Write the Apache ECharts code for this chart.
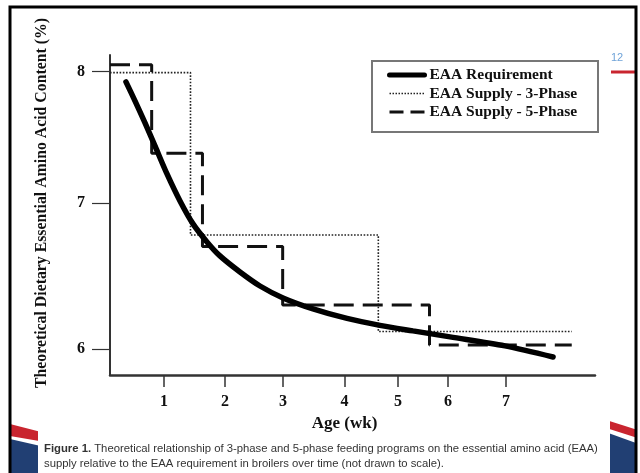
<!DOCTYPE html>
<html><head><meta charset="utf-8">
<script src="https://cdn.jsdelivr.net/npm/echarts@6/dist/echarts.min.js"></script>
<style>html,body{margin:0;padding:0;background:#fff}#c{width:640px;height:473px}</style>
</head><body><div id="c"></div>
<script>
// ---- data (schematic position units; figure is "not drawn to scale") ----
const seriesNames = ['EAA Requirement', 'EAA Supply - 3-Phase', 'EAA Supply - 5-Phase'];
const requirement = [
  [0.333, 7.926], [0.491, 7.789], [0.667, 7.630], [0.842, 7.464], [1.053, 7.262],
  [1.281, 7.067], [1.509, 6.902], [1.754, 6.772], [1.982, 6.671], [2.333, 6.555],
  [2.684, 6.454], [3.088, 6.368], [3.614, 6.289], [4.211, 6.220], [4.789, 6.170],
  [5.368, 6.130], [6.018, 6.087], [6.982, 6.022], [7.825, 5.942]
];
const supply3Phase = [[0.053, 7.993], [1.465, 6.822], [4.760, 6.126], [8.153, 6.126]];
const supply5Phase = [[0.053, 8.050], [0.784, 7.411], [1.675, 6.738], [3.082, 6.317], [5.658, 6.029], [8.153, 6.029]];
const xTickPos = [1, 2.07, 3.088, 4.167, 5.105, 5.982, 7];
const xTickLabels = ['1', '2', '3', '4', '5', '6', '7'];
const yTickPos = [6, 7.051, 8];
const yTickLabels = ['6', '7', '8'];
const xTitle = 'Age (wk)';
const yTitle = 'Theoretical Dietary Essential Amino Acid Content (%)';
const captionLine1 = ['Figure 1.', ' Theoretical relationship of 3-phase and 5-phase feeding programs on the essential amino acid (EAA)'];
const captionLine2 = 'supply relative to the EAA requirement in broilers over time (not drawn to scale).';
const pageNumber = '12';

function lookup(pos, labels) {
  return function (v) {
    for (let i = 0; i < pos.length; i++) if (Math.abs(pos[i] - v) < 1e-6) return labels[i];
    return '';
  };
}

const serif = '"Liberation Serif", "Times New Roman", serif';
const sans = '"Liberation Sans", Arial, sans-serif';
const styleReq = { color: '#000', width: 5.5, type: 'solid' };
const style3 = { color: '#222', width: 1.6, type: [1.6, 1.6] };
const style5 = { color: '#111', width: 3, type: [20, 9] };

const chart = echarts.init(document.getElementById('c'));
chart.setOption({
  backgroundColor: '#fff',
  animation: false,
  grid: { left: 110, top: 55, right: 45, bottom: 98 },
  xAxis: {
    type: 'value', min: 0.053, max: 8.561,
    name: xTitle, nameLocation: 'middle', nameGap: 39,
    nameTextStyle: { fontFamily: serif, fontWeight: 'bold', fontSize: 17, color: '#111', padding: [0, 16, 0, 0] },
    axisLine: { show: true, lineStyle: { color: '#333', width: 2.5 } },
    axisTick: { show: true, customValues: xTickPos, length: 12, lineStyle: { color: '#333', width: 1.5 } },
    axisLabel: { customValues: xTickPos, formatter: lookup(xTickPos, xTickLabels), margin: 19,
      fontFamily: serif, fontWeight: 'bold', fontSize: 16, color: '#111' },
    splitLine: { show: false }
  },
  yAxis: {
    type: 'value', min: 5.812, max: 8.12,
    axisLine: { show: true, lineStyle: { color: '#333', width: 2 } },
    axisTick: { show: true, customValues: yTickPos, length: 18, lineStyle: { color: '#333', width: 1.2 } },
    axisLabel: { customValues: yTickPos, formatter: lookup(yTickPos, yTickLabels), margin: 25,
      fontFamily: serif, fontWeight: 'bold', fontSize: 16, color: '#111' },
    splitLine: { show: false }
  },
  legend: {
    data: [
      { name: seriesNames[0], lineStyle: { color: '#000', width: 5, type: 'solid' } },
      { name: seriesNames[1], lineStyle: { color: '#222', width: 1.5, type: [1.5, 1.5] } },
      { name: seriesNames[2], lineStyle: { color: '#111', width: 3, type: [14, 7] } }
    ],
    orient: 'vertical', left: 387, top: 67, padding: 0,
    itemWidth: 35, itemHeight: 14, itemGap: 2.5,
    itemStyle: { color: 'rgba(0,0,0,0)', borderWidth: 0, opacity: 0 },
    textStyle: { fontFamily: serif, fontWeight: 'bold', fontSize: 15.5, color: '#111', lineHeight: 16 }
  },
  series: [
    { name: seriesNames[1], type: 'line', data: supply3Phase, step: 'end', showSymbol: false, symbol: 'none',
      itemStyle: { color: style3.color }, lineStyle: style3, z: 2 },
    { name: seriesNames[2], type: 'line', data: supply5Phase, step: 'end', showSymbol: false, symbol: 'none',
      itemStyle: { color: style5.color }, lineStyle: style5, z: 3 },
    { name: seriesNames[0], type: 'line', data: requirement, smooth: 0.3, showSymbol: false, symbol: 'none',
      itemStyle: { color: styleReq.color }, lineStyle: Object.assign({ cap: 'round' }, styleReq), z: 4 }
  ],
  graphic: { elements: [
    // slide decorations
    { type: 'polygon', z: -20, shape: { points: [[10, 424], [45, 433], [45, 442], [10, 436]] }, style: { fill: '#c9252f' } },
    { type: 'polygon', z: -20, shape: { points: [[10, 439], [45, 447], [45, 480], [10, 480]] }, style: { fill: '#213f73' } },
    { type: 'polygon', z: -20, shape: { points: [[600, 418], [636, 429.5], [636, 437.5], [600, 426]] }, style: { fill: '#c9252f' } },
    { type: 'polygon', z: -20, shape: { points: [[600, 430], [636, 443], [636, 480], [600, 480]] }, style: { fill: '#213f73' } },
    { type: 'rect', z: -15, shape: { x: 38, y: 20, width: 572, height: 460 }, style: { fill: '#fff' } },
    { type: 'rect', z: -10, shape: { x: 611, y: 70.5, width: 26, height: 3 }, style: { fill: '#c9252f' } },
    { type: 'text', z: -10, left: 611, top: 52, style: { text: pageNumber, font: '11px ' + sans, fill: '#6fa3d8' } },
    { type: 'rect', z: 50, shape: { x: 10, y: 7, width: 626, height: 480 }, style: { fill: 'none', stroke: '#000', lineWidth: 3 } },
    // legend frame
    { type: 'rect', z: 5, shape: { x: 372, y: 61, width: 226, height: 71 }, style: { fill: 'none', stroke: '#777', lineWidth: 2 } },
    // y axis title
    { type: 'text', z: 10, x: 42, y: 203, rotation: Math.PI / 2,
      style: { text: yTitle, font: 'bold 15.8px ' + serif, fill: '#111', align: 'center', verticalAlign: 'middle' } },
    // caption
    { type: 'text', z: 10, left: 44, top: 443,
      style: { text: '{b|' + captionLine1[0] + '}' + captionLine1[1], font: '11.3px ' + sans, fill: '#333',
        rich: { b: { fontWeight: 'bold', fontFamily: sans, fontSize: 11.3, fill: '#333' } } } },
    { type: 'text', z: 10, left: 44, top: 458,
      style: { text: captionLine2, font: '11.3px ' + sans, fill: '#333' } }
  ] }
});
</script></body></html>
